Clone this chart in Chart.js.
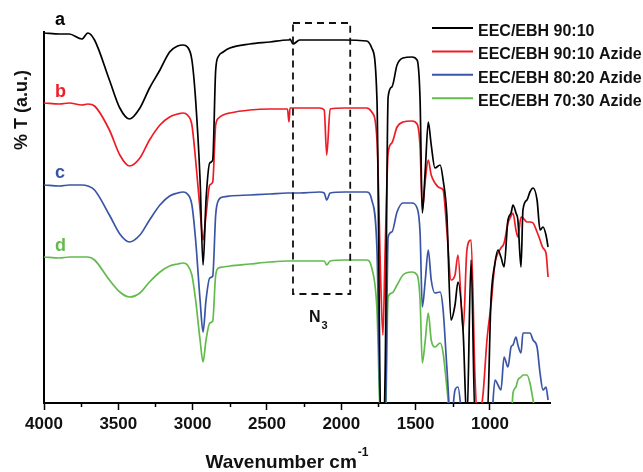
<!DOCTYPE html>
<html><head><meta charset="utf-8">
<script src="https://cdn.jsdelivr.net/npm/chart.js@4.4.1/dist/chart.umd.min.js"></script>
<style>html,body{margin:0;padding:0;background:#fff;}#wrap{width:643px;height:472px;}</style>
</head><body><div id="wrap"><canvas id="c" width="643" height="472"></canvas></div>
<script>
// Wavenumber grid (cm-1)
const wavenumbers = [4000,3895,3830,3745,3705,3660,3560,3490,3425,3355,
 3290,3220,3155,3100,3065,3035,3005,2980,2950,2930,
 2910,2885,2865,2845,2825,2795,2750,2615,2480,2362,
 2352,2345,2325,2280,2145,2115,2098,2075,1975,1830,
 1795,1760,1733,1720,1705,1685,1660,1625,1585,1525,
 1490,1470,1455,1435,1415,1395,1370,1335,1315,1290,
 1262,1235,1215,1180,1155,1127,1100,1080,1047,1020,
 993,966,946,926,905,879,858,845,825,812,
 791,778,751,731,710,683,663,643,623,609];
// %T (a.u., stacked) for each sample
const seriesA = [370,369,369,364,370,363,323,295,284,295,
 315,333,351,357,358,356,343,303,223,138,
 203,240,243,333,347,351,355,359,361,363,
 363,364,359,363,363,363,363,363,363,362,
 355,303,-30,-30,30,306,316,338,345,346,
 343,303,190,233,281,258,235,238,223,188,
 83,98,121,70,-20,143,-20,-20,-20,-20,
 103,140,153,146,136,183,190,198,190,183,
 136,193,203,211,215,203,173,176,168,156];
const seriesB = [300,299,300,298,299,297,273,248,237,245,
 263,278,286,289,290,288,278,243,193,163,
 188,218,221,278,285,288,290,293,294,294,
 281,295,295,295,295,293,248,294,295,295,
 291,263,113,68,153,250,260,276,281,282,
 279,256,193,223,243,228,220,215,213,173,
 123,128,148,73,153,163,23,-20,8,63,
 98,140,150,155,160,180,187,190,173,166,
 186,185,181,181,180,171,163,155,150,126];
const seriesC = [218,217,218,218,217,213,188,169,161,168,
 183,198,207,210,211,209,198,163,103,71,
 103,125,127,188,203,206,207,208,209,210,
 210,210,210,210,211,210,203,210,211,211,
 203,153,-30,-30,-30,166,171,191,200,200,
 195,170,96,123,153,123,110,111,93,36,
 -20,13,16,-20,-20,-20,-20,-20,-20,-20,
 -20,23,18,13,46,36,56,58,66,58,
 50,70,70,70,63,56,30,13,16,3];
const seriesD = [146,145,146,146,146,143,123,111,106,110,
 121,131,137,139,140,138,128,103,63,41,
 63,80,82,128,135,136,137,139,141,142,
 142,142,142,142,142,142,138,142,143,143,
 135,93,-30,-30,-30,106,110,118,128,131,
 128,103,40,63,90,63,56,60,50,16,
 -20,-20,-20,-20,-20,-20,-20,-20,-20,-20,
 -20,-20,-20,-20,-20,-20,-20,10,16,23,
 26,28,28,20,3,-20,-20,-20,-20,-20];
const seriesNames = ['EEC/EBH 90:10','EEC/EBH 90:10 Azide','EEC/EBH 80:20 Azide','EEC/EBH 70:30 Azide'];
const curveTags = ['a','b','c','d'];
const seriesColors = ['#000000','#ee1c25','#3a55a5','#62bb4c'];
const xMin = 596, xMax = 4000, yMin = 0, yMax = 371;
const n3Range = [2325, 1940]; // wavenumber span of N3 box
const n3Label = 'N';
const n3Sub = '3';

const FONT = '"Liberation Sans", Arial, Helvetica, sans-serif';
const allSeries = [seriesA, seriesB, seriesC, seriesD];

const overlay = {
  id: 'overlay',
  afterDraw(chart) {
    const {ctx} = chart;
    const x = chart.scales.x, y = chart.scales.y;
    ctx.save();
    // minor ticks
    ctx.strokeStyle = '#000'; ctx.lineWidth = 1.5;
    x.ticks.forEach(t => {
      if (t.value % 500 !== 0) {
        const px = Math.round(x.getPixelForValue(t.value)) + 0.5;
        ctx.beginPath(); ctx.moveTo(px, y.bottom); ctx.lineTo(px, y.bottom + 4); ctx.stroke();
      }
    });
    // N3 dashed box
    const bx1 = x.getPixelForValue(n3Range[0]), bx2 = x.getPixelForValue(n3Range[1]);
    const by1 = y.getPixelForValue(380), by2 = y.getPixelForValue(109);
    ctx.setLineDash([7, 5]); ctx.lineWidth = 1.8; ctx.strokeStyle = '#111';
    ctx.strokeRect(bx1, by1, bx2 - bx1, by2 - by1);
    ctx.setLineDash([]);
    // N3 label
    ctx.fillStyle = '#111';
    ctx.textAlign = 'left'; ctx.textBaseline = 'alphabetic';
    ctx.font = 'bold 16px ' + FONT;
    ctx.fillText(n3Label, 309, 322);
    const nw = ctx.measureText(n3Label).width;
    ctx.font = 'bold 11px ' + FONT;
    ctx.fillText(n3Sub, 309 + nw + 1, 329);
    // curve tags
    const tagBase = [25, 97, 178, 251];
    ctx.font = 'bold 18px ' + FONT;
    curveTags.forEach((t, i) => { ctx.fillStyle = seriesColors[i]; ctx.fillText(t, 55, tagBase[i]); });
    // legend
    ctx.font = 'bold 16px ' + FONT;
    seriesNames.forEach((n, i) => {
      const ly = 28 + i * 23.4;
      ctx.strokeStyle = seriesColors[i]; ctx.lineWidth = 2;
      ctx.beginPath(); ctx.moveTo(432, ly); ctx.lineTo(473, ly); ctx.stroke();
      ctx.fillStyle = '#111';
      ctx.fillText(n, 478, ly + 7.8);
    });
    // y title
    ctx.save();
    ctx.translate(22, 110); ctx.rotate(-Math.PI / 2);
    ctx.textAlign = 'center'; ctx.textBaseline = 'middle';
    ctx.font = 'bold 18px ' + FONT; ctx.fillStyle = '#111';
    ctx.fillText('% T (a.u.)', 0, 0);
    ctx.restore();
    // x title with superscript
    ctx.font = 'bold 19px ' + FONT;
    const main = 'Wavenumber cm';
    const mw = ctx.measureText(main).width;
    ctx.font = 'bold 12px ' + FONT;
    const sw = ctx.measureText('-1').width;
    const sx = 287 - (mw + sw + 1) / 2;
    ctx.font = 'bold 19px ' + FONT; ctx.fillStyle = '#111';
    ctx.fillText(main, sx, 468);
    ctx.font = 'bold 12px ' + FONT;
    ctx.fillText('-1', sx + mw + 1, 456);
    ctx.restore();
  }
};

new Chart(document.getElementById('c'), {
  type: 'line',
  data: {
    datasets: allSeries.map((s, i) => ({
      label: seriesNames[i],
      data: wavenumbers.map((w, j) => ({x: w, y: s[j]})),
      borderColor: seriesColors[i],
      borderWidth: 1.7,
      pointRadius: 0,
      fill: false,
      cubicInterpolationMode: 'monotone'
    }))
  },
  options: {
    responsive: false,
    animation: false,
    devicePixelRatio: 1,
    layout: {padding: {top: 32, right: 93, left: 0, bottom: 0}},
    plugins: {legend: {display: false}, tooltip: {enabled: false}},
    scales: {
      x: {
        type: 'linear', reverse: true, min: xMin, max: xMax, position: 'bottom',
        border: {display: true, color: '#000', width: 2},
        grid: {display: true, drawOnChartArea: false, drawTicks: true, tickLength: 7, tickWidth: 1.5,
               tickColor: c => (c.tick && c.tick.value % 500 === 0) ? '#000' : 'rgba(0,0,0,0)'},
        ticks: {stepSize: 250, autoSkip: false, maxRotation: 0, padding: 4, color: '#111',
                font: {family: FONT, size: 17, weight: 'bold'},
                callback: v => (v % 500 === 0 ? String(v) : '')},
        afterBuildTicks: s => { s.ticks = s.ticks.filter(t => t.value % 250 === 0); },
        afterFit: s => { s.height = 69; }
      },
      y: {
        type: 'linear', min: yMin, max: yMax,
        border: {display: true, color: '#000', width: 2},
        grid: {display: false},
        ticks: {display: false},
        afterFit: s => { s.width = 44; }
      }
    }
  },
  plugins: [overlay]
});
</script></body></html>
